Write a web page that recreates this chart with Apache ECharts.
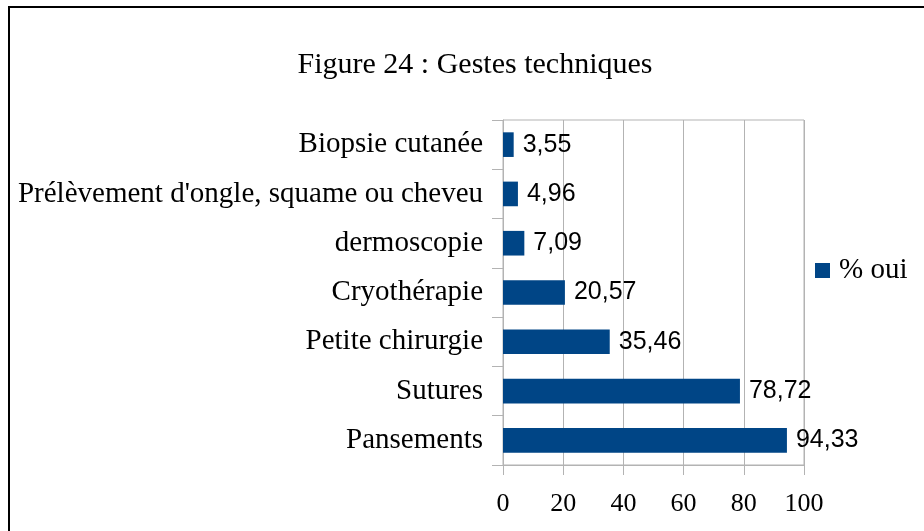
<!DOCTYPE html>
<html>
<head>
<meta charset="utf-8">
<script src="https://cdn.jsdelivr.net/npm/echarts@6/dist/echarts.min.js"></script>
<style>
  html, body { margin: 0; padding: 0; background: #fff; }
  #chart { width: 924px; height: 531px; }
</style>
</head>
<body>
<div id="chart"></div>
<script>
// categories listed bottom to top
const categories = [
  "Pansements",
  "Sutures",
  "Petite chirurgie",
  "Cryothérapie",
  "dermoscopie",
  "Prélèvement d'ongle, squame ou cheveu",
  "Biopsie cutanée"
];
const pctOui = [94.33, 78.72, 35.46, 20.57, 7.09, 4.96, 3.55];
const xTicks = [0, 20, 40, 60, 80, 100];

const serif = "Liberation Serif";
const sans = "Liberation Sans";
const gray = "#b3b3b3";

const chart = echarts.init(document.getElementById("chart"));

const option = {
  animation: false,
  backgroundColor: "#fff",
  title: {
    text: "Figure 24 : Gestes techniques",
    left: 470,
    textAlign: "center",
    top: 45,
    textStyle: { fontFamily: serif, fontSize: 30, fontWeight: "normal", color: "#000" }
  },
  graphic: [
    {
      type: "rect",
      shape: { x: 9, y: 7, width: 1000, height: 1000 },
      style: { fill: "none", stroke: "#000", lineWidth: 2 },
      silent: true
    }
  ],
  legend: {
    data: ["% oui"],
    left: 815,
    top: 256,
    padding: 0,
    itemWidth: 15,
    itemHeight: 15,
    icon: "rect",
    textStyle: { fontFamily: serif, fontSize: 29, color: "#000", padding: [0, 0, 0, 4] }
  },
  grid: {
    left: 503,
    right: 120,
    top: 120,
    bottom: 66,
    show: true,
    borderColor: gray,
    borderWidth: 1
  },
  xAxis: {
    type: "value",
    min: xTicks[0],
    max: xTicks[xTicks.length - 1],
    interval: 20,
    axisLine: { show: true, lineStyle: { color: gray } },
    axisTick: { show: true, length: 10, lineStyle: { color: gray } },
    splitLine: { show: true, lineStyle: { color: gray } },
    axisLabel: { fontFamily: serif, fontSize: 26, color: "#000", margin: 26 }
  },
  yAxis: {
    type: "category",
    data: categories,
    axisLine: { show: true, lineStyle: { color: gray } },
    axisTick: { show: true, length: 11, inside: false, lineStyle: { color: gray } },
    axisLabel: { fontFamily: serif, fontSize: 29, color: "#000", margin: 20 }
  },
  series: [
    {
      name: "% oui",
      type: "bar",
      data: pctOui,
      barWidth: "50%",
      itemStyle: { color: "#004586" },
      label: {
        show: true,
        position: "right",
        distance: 9,
        fontFamily: sans,
        fontSize: 25,
        color: "#000",
        formatter: (p) => p.value.toFixed(2).replace(".", ",")
      }
    }
  ]
};

chart.setOption(option);
</script>
</body>
</html>
